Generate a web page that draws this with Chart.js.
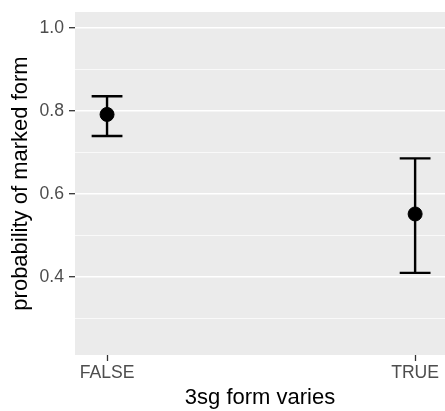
<!DOCTYPE html>
<html>
<head>
<meta charset="utf-8">
<script src="https://cdn.jsdelivr.net/npm/chart.js@4.4.1/dist/chart.umd.min.js"></script>
<style>
  html, body { margin: 0; padding: 0; background: #fff; }
</style>
</head>
<body>
<canvas id="chart" width="445" height="411"></canvas>
<script>
// data
const categories = ['FALSE', 'TRUE'];
const xPos = [1, 2];
const estimate = [0.792, 0.552];
const lower = [0.740, 0.410];
const upper = [0.836, 0.686];
const yTicks = [0.3, 0.4, 0.5, 0.6, 0.7, 0.8, 0.9, 1.0];

const isMajor = v => Math.round(v * 10) % 2 === 0;

const panelBg = {
    id: 'panelBg',
    beforeDraw(chart) {
        const { ctx, chartArea: a } = chart;
        ctx.save();
        ctx.fillStyle = '#EBEBEB';
        ctx.fillRect(a.left, a.top, a.right - a.left, a.bottom - a.top);
        ctx.restore();
    }
};

const errorBars = {
    id: 'errorBars',
    beforeDatasetsDraw(chart) {
        const { ctx, scales: { x, y } } = chart;
        ctx.save();
        ctx.strokeStyle = '#000';
        ctx.lineWidth = 2.4;
        xPos.forEach((xv, i) => {
            const cx = x.getPixelForValue(xv);
            const l = x.getPixelForValue(xv - 0.05);
            const r = x.getPixelForValue(xv + 0.05);
            const top = y.getPixelForValue(upper[i]);
            const bot = y.getPixelForValue(lower[i]);
            ctx.beginPath();
            ctx.moveTo(cx, top); ctx.lineTo(cx, bot);
            ctx.moveTo(l, top); ctx.lineTo(r, top);
            ctx.moveTo(l, bot); ctx.lineTo(r, bot);
            ctx.stroke();
        });
        ctx.restore();
    }
};

const tickFont = { family: 'Liberation Sans', size: 17.6 };
const titleFont = { family: 'Liberation Sans', size: 22 };

new Chart(document.getElementById('chart').getContext('2d'), {
    type: 'scatter',
    data: {
        datasets: [{
            data: xPos.map((xv, i) => ({ x: xv, y: estimate[i] })),
            backgroundColor: '#000',
            borderColor: '#000',
            pointRadius: 7,
            pointHoverRadius: 7
        }]
    },
    options: {
        responsive: false,
        animation: false,
        layout: { autoPadding: false, padding: { top: 12, right: 0, left: 0, bottom: 0 } },
        plugins: { legend: { display: false }, tooltip: { enabled: false } },
        scales: {
            x: {
                type: 'linear',
                min: 0.896,
                max: 2.097,
                afterBuildTicks: s => { s.ticks = xPos.map(v => ({ value: v })); },
                afterFit: s => { s.height = 56; s.paddingLeft = 0; s.paddingRight = 0; },
                border: { display: false },
                grid: {
                    drawOnChartArea: false,
                    drawTicks: true,
                    tickLength: 6,
                    tickColor: '#333333',
                    tickWidth: 1.3
                },
                ticks: {
                    padding: 2,
                    color: '#4D4D4D',
                    font: tickFont,
                    maxRotation: 0,
                    callback: v => categories[xPos.indexOf(v)]
                },
                title: {
                    display: true,
                    text: '3sg form varies',
                    color: '#000',
                    font: titleFont,
                    padding: { top: 0, bottom: 0 }
                }
            },
            y: {
                min: 0.212,
                max: 1.039,
                afterBuildTicks: s => { s.ticks = yTicks.map(v => ({ value: v })); },
                afterFit: s => { s.width = 75; s.paddingTop = 0; s.paddingBottom = 0; },
                border: { display: false },
                grid: {
                    color: '#FFFFFF',
                    lineWidth: c => isMajor(c.tick.value) ? 1.4 : 0.7,
                    drawTicks: true,
                    tickLength: 6,
                    tickColor: c => isMajor(c.tick.value) ? '#333333' : 'rgba(0,0,0,0)',
                    tickWidth: 1.3
                },
                ticks: {
                    padding: 5,
                    color: '#4D4D4D',
                    font: tickFont,
                    callback: v => isMajor(v) ? v.toFixed(1) : ''
                },
                title: {
                    display: true,
                    text: 'probability of marked form',
                    color: '#000',
                    font: titleFont,
                    padding: { top: 8, bottom: 0 }
                }
            }
        }
    },
    plugins: [panelBg, errorBars]
});
</script>
</body>
</html>
